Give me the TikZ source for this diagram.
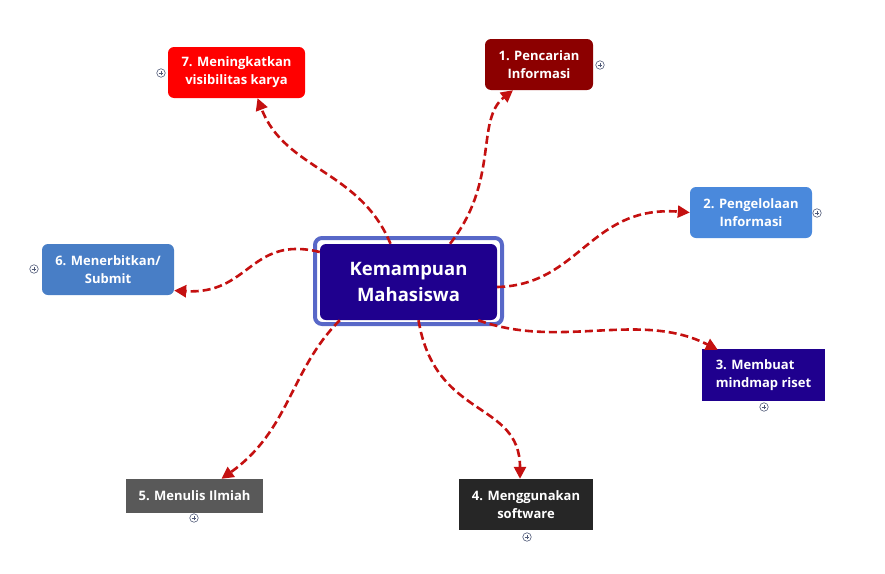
\documentclass[tikz,border=0pt]{standalone}
\usepackage{fontspec}
\setmainfont{Open Sans}
\usetikzlibrary{arrows.meta,calc}
\definecolor{cindigo}{RGB}{31,0,142}
\definecolor{cborder}{RGB}{88,104,200}
\definecolor{cdred}{RGB}{140,0,0}
\definecolor{cred}{RGB}{255,0,0}
\definecolor{cblue}{RGB}{74,137,220}
\definecolor{csteel}{RGB}{72,126,198}
\definecolor{cgray}{RGB}{89,89,89}
\definecolor{cdark}{RGB}{38,38,38}
\definecolor{cline}{RGB}{196,16,16}
\definecolor{cplus}{RGB}{80,90,120}
\tikzset{
  topic/.style={text=white, font=\fontsize{13}{18}\selectfont\bfseries, align=center, inner sep=0pt},
  roundtopic/.style={topic, rounded corners=6pt},
  link/.style={draw=cline, line width=2.6pt, dash pattern=on 8pt off 4pt,
    -{Triangle[length=12pt,width=12pt]}},
  plusc/.style={circle, draw=cplus, line width=0.6pt, minimum size=8.5pt, inner sep=0pt,
    path picture={\draw[cplus, line width=0.7pt]
      ([xshift=-2.3pt]path picture bounding box.center) -- ([xshift=2.3pt]path picture bounding box.center)
      ([yshift=-2.3pt]path picture bounding box.center) -- ([yshift=2.3pt]path picture bounding box.center);}},
}
\begin{document}
\begin{tikzpicture}[x=1pt,y=-1pt]
\useasboundingbox (0,0) rectangle (885,573);
% central topic
\draw[cborder, line width=4pt, rounded corners=7pt, fill=white] (315,238) rectangle (502,324);
\node[fill=cindigo, rounded corners=6pt, minimum width=177pt, minimum height=76pt, inner sep=0pt,
  text=white, font=\fontsize{18.5}{26}\selectfont\bfseries, align=center] (c) at (408.5,282) {Kemampuan\\Mahasiswa};
% child topics
\node[roundtopic, fill=cred, minimum width=137pt, minimum height=51pt] (n7) at (236.5,72.5) {7. Meningkatkan\\visibilitas karya};
\node[roundtopic, fill=cdred, minimum width=108pt, minimum height=51pt] (n1) at (539,64.5) {1. Pencarian\\Informasi};
\node[roundtopic, fill=cblue, minimum width=122pt, minimum height=51pt] (n2) at (751,212.5) {2. Pengelolaan\\Informasi};
\node[topic, fill=cindigo, minimum width=123pt, minimum height=52pt, align=left] (n3) at (763.5,375) {3. Membuat\\mindmap riset};
\node[roundtopic, fill=csteel, minimum width=132pt, minimum height=51pt] (n6) at (108,269.5) {6. Menerbitkan/\\Submit};
\node[topic, fill=cgray, minimum width=137pt, minimum height=34pt] (n5) at (194.5,496) {5. Menulis Ilmiah};
\node[topic, fill=cdark, minimum width=134pt, minimum height=51pt] (n4) at (526,504.5) {4. Menggunakan\\software};
% connectors
\draw[link] ($(c.north)+(-18,0)$) .. controls (360,170) and (285,170) .. ($(n7.south)+(21,0)$);
\draw[link] ($(c.north)+(41.5,0)$) .. controls (500,180) and (475,120) .. ($(n1.south)+(-26,0)$);
\draw[link] ($(c.east)+(0,5)$) .. controls (580,285) and (590,205) .. (n2.west);
\draw[link] ($(c.south east)+(-19,0)$) .. controls (560,350) and (640,310) .. ($(n3.north west)+(16,1)$);
\draw[link] ($(c.south)+(10,0)$) .. controls (435,420) and (520,400) .. ($(n4.north)+(-6,0)$);
\draw[link] ($(c.south west)+(20,0)$) .. controls (290,370) and (290,430) .. ($(n5.north)+(27,0)$);
\draw[link] ($(c.west)+(0,-30)$) .. controls (250,235) and (250,295) .. ($(n6.east)+(0,21)$);
% plus markers
\node[plusc] (p7) at (161,73) {};
\node[plusc] (p1) at (600,65) {};
\node[plusc] (p2) at (817,213) {};
\node[plusc] (p3) at (764,407) {};
\node[plusc] (p6) at (34,269) {};
\node[plusc] (p5) at (194,518) {};
\node[plusc] (p4) at (527,537) {};
\end{tikzpicture}
\end{document}
